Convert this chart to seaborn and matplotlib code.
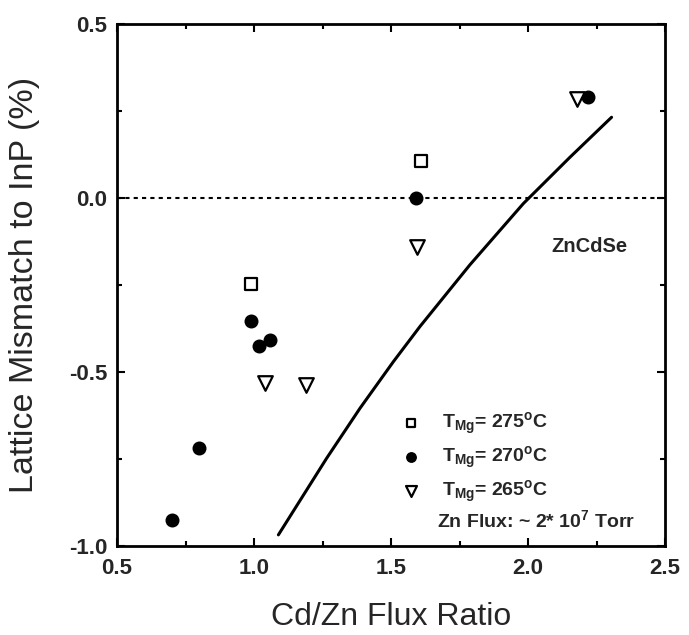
import matplotlib
matplotlib.use("Agg")
import matplotlib.pyplot as plt
import seaborn as sns
from matplotlib.ticker import MultipleLocator, FormatStrFormatter

sns.set_theme(style="ticks")
plt.rcParams['font.family'] = ['Liberation Sans', 'DejaVu Sans']
plt.rcParams['mathtext.default'] = 'regular'

# Data
x_275 = [0.99, 1.61]
y_275 = [-0.247, 0.105]
x_270 = [0.70, 0.80, 0.99, 1.02, 1.06, 1.59, 2.22]
y_270 = [-0.925, -0.718, -0.354, -0.425, -0.408, 0.0, 0.29]
x_265 = [1.04, 1.19, 1.595, 2.18]
y_265 = [-0.531, -0.537, -0.142, 0.285]
curve_x = [1.089, 1.265, 1.387, 1.508, 1.606, 1.788, 1.983, 2.153, 2.305]
curve_y = [-0.968, -0.748, -0.604, -0.471, -0.369, -0.192, -0.016, 0.117, 0.232]

labels = [r"T$_{Mg}$= 275$^{o}$C", r"T$_{Mg}$= 270$^{o}$C", r"T$_{Mg}$= 265$^{o}$C"]

fig = plt.figure(figsize=(6.89, 6.35), dpi=100)
ax = fig.add_axes([117/689, 1-546/635, 548/689, 522/635])

ax.axhline(0, color='black', lw=1.5, ls=(0, (2, 2)), zorder=1)
sns.lineplot(x=curve_x, y=curve_y, ax=ax, color='black', lw=2.2, sort=True, zorder=2)

sns.scatterplot(x=x_275, y=y_275, ax=ax, marker='s', s=70, facecolor='white',
                edgecolor='black', linewidth=1.6, zorder=3, label=labels[0])
sns.scatterplot(x=x_270, y=y_270, ax=ax, marker='o', s=82, color='black',
                edgecolor='black', linewidth=1, zorder=3, label=labels[1])
sns.scatterplot(x=x_265, y=y_265, ax=ax, marker='v', s=110, facecolor='white',
                edgecolor='black', linewidth=1.6, zorder=3, label=labels[2])

ax.set_xlim(0.5, 2.5)
ax.set_ylim(-1.0, 0.5)
ax.xaxis.set_major_locator(MultipleLocator(0.5))
ax.xaxis.set_minor_locator(MultipleLocator(0.25))
ax.yaxis.set_major_locator(MultipleLocator(0.5))
ax.yaxis.set_minor_locator(MultipleLocator(0.25))
ax.xaxis.set_major_formatter(FormatStrFormatter('%.1f'))
ax.yaxis.set_major_formatter(FormatStrFormatter('%.1f'))
ax.tick_params(which='both', direction='in', top=True, right=True, width=1.5, color='black')
ax.tick_params(which='major', length=6, labelsize=16)
ax.tick_params(axis='y', which='major', pad=7)
ax.tick_params(axis='x', which='major', pad=8.5)
ax.tick_params(which='minor', length=3.5)
for sp in ax.spines.values():
    sp.set_linewidth(2)
    sp.set_color('black')

ax.set_xlabel("Cd/Zn Flux Ratio", fontsize=23)
ax.set_ylabel("Lattice Mismatch to InP (%)", fontsize=24.5)
ax.xaxis.set_label_coords(0.5, -0.108)
ax.yaxis.set_label_coords(-0.14, 0.5)

ax.text(2.226, -0.138, "ZnCdSe", fontsize=14.5, fontweight='bold', ha='center', va='center')

leg = ax.legend(loc='upper left', bbox_to_anchor=(0.515, 0.259), frameon=False,
                prop={'size': 14, 'weight': 'bold'}, handletextpad=1.0, labelspacing=0.4,
                borderaxespad=0, borderpad=0, handlelength=1.2, markerscale=0.75)
ax.text(1.668, -0.925, r"Zn Flux: ~ 2* 10$^{7}$ Torr", fontsize=14, fontweight='bold',
        ha='left', va='center')

for lab in ax.get_xticklabels() + ax.get_yticklabels():
    lab.set_fontweight('bold')

fig.savefig("out.png", dpi=100)
